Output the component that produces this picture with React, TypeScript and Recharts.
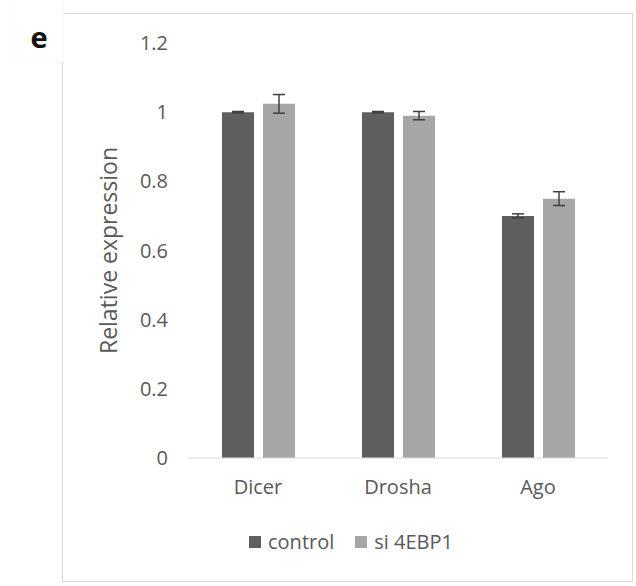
import React from 'react';
import { BarChart, Bar, XAxis, YAxis, ErrorBar, Legend } from 'recharts';

const categories = ['Dicer', 'Drosha', 'Ago'];
const controlValues = [1.0, 1.0, 0.7];
const controlErrors = [0.002, 0.002, 0.006];
const siValues = [1.024, 0.99, 0.75];
const siErrors = [0.027, 0.012, 0.02];
const yTicks = [0, 0.2, 0.4, 0.6, 0.8, 1, 1.2];
const seriesNames = ['control', 'si 4EBP1'];
const seriesColors = ['#5f5f5f', '#a6a6a6'];

const data = categories.map((c, i) => ({
  name: c,
  control: controlValues[i],
  controlErr: controlErrors[i],
  si: siValues[i],
  siErr: siErrors[i],
}));

const FONT = '"Open Sans", sans-serif';
const TEXT = '#595959';

const renderLegend = () => (
  <div style={{ display: 'flex', alignItems: 'center', fontFamily: FONT, fontSize: 20, color: TEXT, whiteSpace: 'nowrap' }}>
    {seriesNames.map((n, i) => (
      <div key={n} style={{ display: 'flex', alignItems: 'center', marginRight: i === 0 ? 21 : 0 }}>
        <span style={{ display: 'inline-block', width: 12, height: 12, background: seriesColors[i], marginRight: 7 }} />
        <span>{n}</span>
      </div>
    ))}
  </div>
);

const YLabel = (props: any) => {
  const vb = props.viewBox || { x: 128, y: 43, width: 60, height: 415 };
  const cx = vb.x + vb.width - 80;
  const cy = vb.y + vb.height / 2;
  return (
    <text
      x={cx}
      y={cy}
      transform={`rotate(-90, ${cx}, ${cy})`}
      textAnchor="middle"
      dominantBaseline="central"
      fill={TEXT}
      fontSize={23}
      fontFamily={FONT}
    >
      Relative expression
    </text>
  );
};

export default function App() {
  return (
    <div style={{ position: 'absolute', left: 0, top: 0, width: 636, height: 586, background: '#fff', fontFamily: FONT }}>
      <div style={{ position: 'absolute', left: 62, top: 13, width: 571, height: 569, border: '1px solid #d9d9d9', boxSizing: 'border-box' }} />
      <div style={{ position: 'absolute', left: 0, top: 0 }}>
        <BarChart
          width={636}
          height={586}
          data={data}
          margin={{ top: 43, right: 28, bottom: 88, left: 128 }}
          barGap={9}
          barCategoryGap={34}
          style={{ fontFamily: FONT }}
        >
          <XAxis
            dataKey="name"
            height={40}
            axisLine={{ stroke: '#d9d9d9' }}
            tickLine={false}
            tickMargin={16}
            tick={{ fill: TEXT, fontSize: 20, fontFamily: FONT }}
          />
          <YAxis
            width={60}
            domain={[0, 1.2]}
            ticks={yTicks}
            axisLine={false}
            tickLine={false}
            tickMargin={14}
            tick={{ fill: TEXT, fontSize: 20, fontFamily: FONT }}
            tickFormatter={(v: number) => String(v)}
            label={<YLabel />}
          />
          <Legend
            layout="horizontal"
            verticalAlign="middle"
            align="center"
            content={renderLegend}
            wrapperStyle={{ left: 249, top: 528, width: 'auto' }}
          />
          <Bar dataKey="control" name={seriesNames[0]} fill={seriesColors[0]} isAnimationActive={false}>
            <ErrorBar dataKey="controlErr" width={6} stroke="#404040" strokeWidth={1.5} direction="y" />
          </Bar>
          <Bar dataKey="si" name={seriesNames[1]} fill={seriesColors[1]} isAnimationActive={false}>
            <ErrorBar dataKey="siErr" width={6} stroke="#404040" strokeWidth={1.5} direction="y" />
          </Bar>
        </BarChart>
      </div>
      <div
        style={{
          position: 'absolute',
          left: 15,
          top: 0,
          width: 48,
          height: 62,
          paddingTop: 10,
          boxSizing: 'border-box',
          background: '#fff',
          boxShadow: '0 0 2px #f0f0f0',
          display: 'flex',
          alignItems: 'center',
          justifyContent: 'center',
          fontWeight: 700,
          fontSize: 29,
          color: '#111',
          fontFamily: FONT,
        }}
      >
        e
      </div>
    </div>
  );
}
